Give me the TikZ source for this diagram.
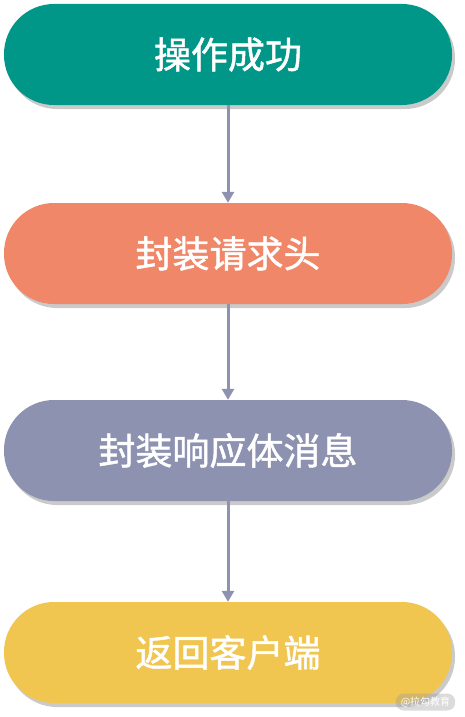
\documentclass[tikz,border=0pt]{standalone}
\usepackage{fontspec}
\usepackage{tikz}
\usetikzlibrary{arrows.meta,shadows}
\newfontfamily\cjk[FakeBold=1.3]{Noto Sans CJK SC}
\newfontfamily\cjklight{Noto Sans CJK SC}
\definecolor{StepTeal}{HTML}{009688}
\definecolor{StepCoral}{HTML}{F08768}
\definecolor{StepSlate}{HTML}{8E92B1}
\definecolor{StepAmber}{HTML}{F0C550}
\definecolor{FlowArrow}{HTML}{8E92B1}
\tikzset{
  stepbox/.style={draw=none,minimum width=448pt,minimum height=101pt,
    rounded corners=50pt,text=white,inner sep=0pt,
    font=\cjk\fontsize{37}{41}\selectfont,
    drop shadow={shadow xshift=3pt,shadow yshift=-4pt,opacity=0.35,fill=black!60}},
  flow arrow/.style={draw=FlowArrow,line width=3pt,
    -{Triangle[width=12pt,length=11pt]}},
  watermark/.style={fill=black!40,fill opacity=0.35,text opacity=1,text=white,
    rounded corners=8pt,inner xsep=5pt,minimum height=17pt,
    font=\cjklight\fontsize{10}{11}\selectfont}
}
\begin{document}
\begin{tikzpicture}[x=1pt,y=-1pt]
  \path[use as bounding box] (0,0) rectangle (465,717);

  \node[stepbox,fill=StepTeal]  (success) at (228,54.5)  {操作成功};
  \node[stepbox,fill=StepCoral] (header)  at (228,253.5) {封装请求头};
  \node[stepbox,fill=StepSlate] (body)    at (228,450.5) {封装响应体消息};
  \node[stepbox,fill=StepAmber] (reply)   at (228,652.5) {返回客户端};

  \draw[flow arrow] (success.south) -- (header.north);
  \draw[flow arrow] (header.south) -- (body.north);
  \draw[flow arrow] (body.south) -- (reply.north);

  \node[watermark] (mark) at (425.5,702) {@拉勾教育};
\end{tikzpicture}
\end{document}
